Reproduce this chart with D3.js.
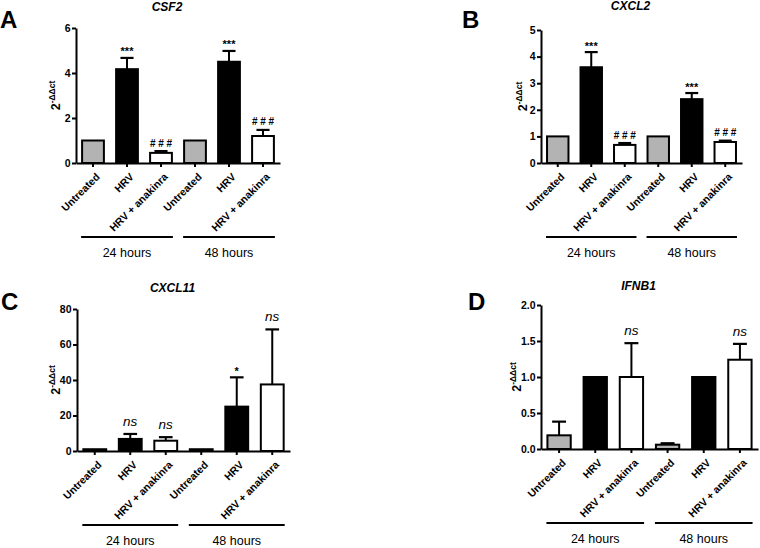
<!DOCTYPE html>
<html>
<head>
<meta charset="utf-8">
<script src="https://cdn.jsdelivr.net/npm/d3@7"></script>
<style>
  html, body { margin: 0; padding: 0; background: #fff; }
  svg { display: block; font-family: "Liberation Sans", Arial, sans-serif; }
</style>
</head>
<body>
<svg id="chart" width="760" height="548"></svg>
<script>
// ---------- DATA ----------
const treatments = ["Untreated", "HRV", "HRV + anakinra"];
const groups = ["24 hours", "48 hours"];

const csf2Mean = [1, 4.17, 0.45, 1, 4.5, 1.2];
const csf2Err  = [0, 0.5, 0.08, 0, 0.48, 0.27];
const csf2Sig  = ["", "***", "# # #", "", "***", "# # #"];
const csf2Ticks = [0, 2, 4, 6];

const cxcl2Mean = [1, 3.6, 0.68, 1, 2.4, 0.79];
const cxcl2Err  = [0, 0.57, 0.07, 0, 0.23, 0.05];
const cxcl2Sig  = ["", "***", "# # #", "", "***", "# # #"];
const cxcl2Ticks = [0, 1, 2, 3, 4, 5];

const cxcl11Mean = [1, 6.8, 5.8, 1, 25, 37.5];
const cxcl11Err  = [0, 2.8, 2.0, 0, 16.5, 31];
const cxcl11Sig  = ["", "ns", "ns", "", "*", "ns"];
const cxcl11Ticks = [0, 20, 40, 60, 80];

const ifnb1Mean = [0.19, 1, 1, 0.06, 1, 1.24];
const ifnb1Err  = [0.19, 0, 0.47, 0.02, 0, 0.22];
const ifnb1Sig  = ["", "", "ns", "", "", "ns"];
const ifnb1Ticks = [0, 0.5, 1.0, 1.5, 2.0];

const fills = ["#b3b3b3", "#000000", "#ffffff"];

// ---------- LAYOUT ----------
const panels = [
  { letter: "A", title: "CSF2", mean: csf2Mean, err: csf2Err, sig: csf2Sig, ticks: csf2Ticks, fmt: d3.format("d"),
    x0: 76, x1: 280, yTop: 28, yBot: 163, letterX: 0, letterY: 28, titleY: 11, ylabOff: 16 },
  { letter: "B", title: "CXCL2", mean: cxcl2Mean, err: cxcl2Err, sig: cxcl2Sig, ticks: cxcl2Ticks, fmt: d3.format("d"),
    x0: 541, x1: 742, yTop: 30, yBot: 163, letterX: 462, letterY: 28, titleY: 10, ylabOff: 14 },
  { letter: "C", title: "CXCL11", mean: cxcl11Mean, err: cxcl11Err, sig: cxcl11Sig, ticks: cxcl11Ticks, fmt: d3.format("d"),
    x0: 77, x1: 290, yTop: 309, yBot: 451, letterX: 1, letterY: 310, titleY: 292, ylabOff: 17 },
  { letter: "D", title: "IFNB1", mean: ifnb1Mean, err: ifnb1Err, sig: ifnb1Sig, ticks: ifnb1Ticks, fmt: d3.format(".1f"),
    x0: 541, x1: 758, yTop: 305, yBot: 449, letterX: 468, letterY: 310, titleY: 290, ylabOff: 20 }
];

const svg = d3.select("#chart");

panels.forEach(p => {
  const g = svg.append("g");
  const idx = d3.range(p.mean.length);
  const x = d3.scaleBand().domain(idx).range([p.x0, p.x1]).paddingInner(0.3).paddingOuter(0.15);
  const y = d3.scaleLinear().domain([0, d3.max(p.ticks)]).range([p.yBot, p.yTop]);
  const bw = x.bandwidth();

  // bars
  g.selectAll("rect.bar").data(idx).join("rect")
    .attr("class", "bar")
    .attr("x", i => x(i) + 1)
    .attr("width", bw - 2)
    .attr("y", i => y(p.mean[i]))
    .attr("height", i => y(0) - y(p.mean[i]))
    .attr("fill", i => fills[i % 3])
    .attr("stroke", "#000")
    .attr("stroke-width", 2);

  // error bars (upper only)
  const withErr = idx.filter(i => p.err[i] > 0);
  const capW = bw * 0.55;
  g.selectAll("line.err").data(withErr).join("line")
    .attr("x1", i => x(i) + bw / 2).attr("x2", i => x(i) + bw / 2)
    .attr("y1", i => y(p.mean[i])).attr("y2", i => y(p.mean[i] + p.err[i]))
    .attr("stroke", "#000").attr("stroke-width", 2);
  g.selectAll("line.cap").data(withErr).join("line")
    .attr("x1", i => x(i) + bw / 2 - capW / 2).attr("x2", i => x(i) + bw / 2 + capW / 2)
    .attr("y1", i => y(p.mean[i] + p.err[i])).attr("y2", i => y(p.mean[i] + p.err[i]))
    .attr("stroke", "#000").attr("stroke-width", 2.2);

  // significance labels
  g.selectAll("text.sig").data(idx.filter(i => p.sig[i])).join("text")
    .attr("x", i => x(i) + bw / 2)
    .attr("y", i => {
      const top = y(p.mean[i] + p.err[i]);
      const s = p.sig[i];
      if (s === "ns") return top - 8;
      if (s.startsWith("#")) return top - 4.5;
      return top - 2.5;
    })
    .attr("text-anchor", "middle")
    .attr("font-size", i => p.sig[i] === "ns" ? 13.5 : (p.sig[i].startsWith("#") ? 10 : 11))
    .attr("font-style", i => p.sig[i] === "ns" ? "italic" : "normal")
    .attr("font-weight", i => p.sig[i] === "ns" ? "normal" : "bold")
    .text(i => p.sig[i]);

  // y axis
  const yAxis = g.append("g").attr("transform", `translate(${p.x0},0)`)
    .call(d3.axisLeft(y).tickValues(p.ticks).tickFormat(p.fmt).tickSize(4).tickSizeOuter(0).tickPadding(1.5));
  yAxis.select(".domain").attr("stroke-width", 2);
  yAxis.selectAll(".tick line").attr("stroke-width", 2);
  yAxis.selectAll(".tick text").attr("font-size", 10.5).attr("font-weight", "bold")
    .attr("font-family", "'Liberation Sans', Arial, sans-serif").attr("fill", "#000");

  // x axis
  const xAxis = g.append("g").attr("transform", `translate(0,${p.yBot})`)
    .call(d3.axisBottom(x).tickFormat("").tickSize(4).tickSizeOuter(0));
  xAxis.select(".domain").attr("stroke-width", 2);
  xAxis.selectAll(".tick line").attr("stroke-width", 2);

  // rotated category labels
  g.selectAll("text.cat").data(idx).join("text")
    .attr("transform", i => `translate(${x(i) + bw / 2 + 3},${p.yBot + 10}) rotate(-45)`)
    .attr("dy", "0.6em")
    .attr("text-anchor", "end")
    .attr("font-size", 10.5)
    .attr("font-weight", "bold")
    .text(i => treatments[i % 3]);

  // group lines and labels
  groups.forEach((gr, k) => {
    const a = x(k * 3), b = x(k * 3 + 2) + bw;
    const ly = p.yBot + 74;
    g.append("line").attr("x1", a).attr("x2", b).attr("y1", ly).attr("y2", ly)
      .attr("stroke", "#000").attr("stroke-width", 2);
    g.append("text").attr("x", (a + b) / 2).attr("y", ly + 20)
      .attr("text-anchor", "middle").attr("font-size", 12.5).text(gr);
  });

  // y label 2^-ΔΔct
  const yl = g.append("text")
    .attr("transform", `translate(${p.x0 - p.ylabOff},${(p.yTop + p.yBot) / 2}) rotate(-90)`)
    .attr("text-anchor", "middle")
    .attr("font-weight", "bold")
    .attr("font-size", 12.5);
  yl.append("tspan").text("2");
  yl.append("tspan").attr("font-size", 8.5).attr("dy", "-0.55em").text("-ΔΔct");

  // title
  g.append("text").attr("x", (p.x0 + p.x1) / 2 - 11).attr("y", p.titleY)
    .attr("text-anchor", "middle").attr("font-size", 12).attr("font-weight", "bold")
    .attr("font-style", "italic").text(p.title);

  // panel letter
  g.append("text").attr("x", p.letterX).attr("y", p.letterY)
    .attr("font-size", 24).attr("font-weight", "bold").text(p.letter);
});
</script>
</body>
</html>
